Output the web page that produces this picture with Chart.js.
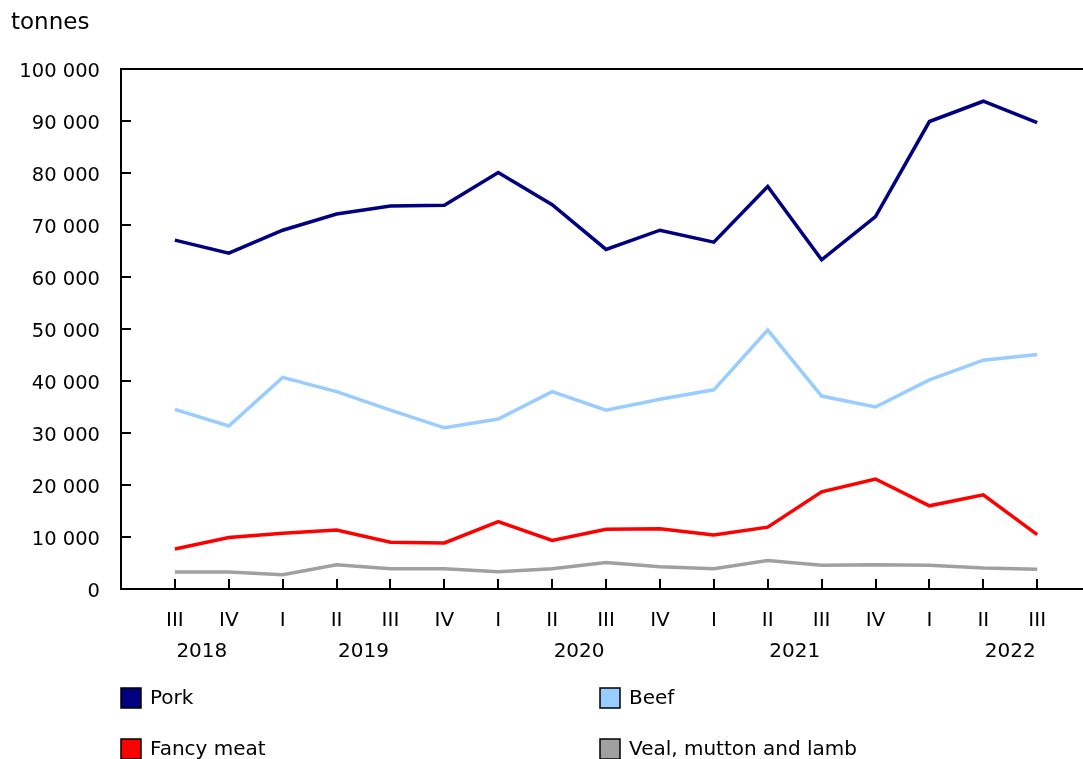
<!DOCTYPE html>
<html>
<head>
<meta charset="utf-8">
<script src="https://cdn.jsdelivr.net/npm/chart.js@4"></script>
<style>
  body { margin: 0; background: #fff; }
  canvas { display: block; }
</style>
</head>
<body>
<canvas id="myChart" width="1083" height="759"></canvas>
<script>
// quarters III 2018 .. III 2022, tonnes
const quarters = ['III', 'IV', 'I', 'II', 'III', 'IV', 'I', 'II', 'III', 'IV', 'I', 'II', 'III', 'IV', 'I', 'II', 'III'];
const years = ['2018', '2019', '2020', '2021', '2022'];
const yearAt = [0.5, 3.5, 7.5, 11.5, 15.5]; // quarter index under which the year sits

const pork = [67100, 64600, 69000, 72100, 73650, 73800, 80100, 73900, 65300, 69000, 66700, 77400, 63300, 71600, 89900, 93800, 89700];
const beef = [34550, 31350, 40700, 37950, 34400, 31000, 32700, 37950, 34400, 36500, 38300, 49800, 37100, 35000, 40200, 44000, 45100];
const fancyMeat = [7700, 9900, 10700, 11350, 9000, 8850, 12950, 9350, 11500, 11600, 10400, 11900, 18700, 21150, 16000, 18100, 10450];
const veal = [3270, 3270, 2760, 4670, 3900, 3900, 3330, 3900, 5100, 4300, 3900, 5500, 4550, 4670, 4550, 4040, 3800];

const FONT = 'DejaVu Sans, Verdana, sans-serif';

function withSpaces(v) {
    return String(v).replace(/\B(?=(\d{3})+(?!\d))/g, ' ');
}

function points(values) {
    return values.map((v, i) => ({ x: i, y: v }));
}

const extras = {
    id: 'extras',
    afterDraw(chart) {
        const { ctx, chartArea: a, scales: { x, y } } = chart;
        ctx.save();
        ctx.strokeStyle = '#000';
        ctx.lineWidth = 2;
        ctx.beginPath();
        // top frame line
        ctx.moveTo(a.left - 1, a.top);
        ctx.lineTo(a.right, a.top);
        // inner tick marks
        quarters.forEach((q, i) => {
            const px = Math.round(x.getPixelForValue(i));
            ctx.moveTo(px, a.bottom);
            ctx.lineTo(px, a.bottom - 10);
        });
        y.ticks.forEach((t) => {
            if (t.value <= 0 || t.value >= 100000) return;
            const py = Math.round(y.getPixelForValue(t.value));
            ctx.moveTo(a.left, py);
            ctx.lineTo(a.left + 10, py);
        });
        ctx.stroke();

        ctx.fillStyle = '#000';
        ctx.font = '20px ' + FONT;
        ctx.textAlign = 'center';
        ctx.textBaseline = 'middle';
        years.forEach((yr, i) => {
            ctx.fillText(yr, x.getPixelForValue(yearAt[i]), 652);
        });

        // unit label
        ctx.font = '23px ' + FONT;
        ctx.textAlign = 'left';
        ctx.textBaseline = 'alphabetic';
        ctx.fillText('tonnes', 11, 29);

        // legend
        ctx.font = '20px ' + FONT;
        ctx.textBaseline = 'middle';
        const cols = [121, 600];
        const rows = [688, 739];
        chart.data.datasets.forEach((ds, i) => {
            const bx = cols[i % 2];
            const by = rows[Math.floor(i / 2)];
            ctx.fillStyle = ds.borderColor;
            ctx.fillRect(bx, by, 20, 20);
            ctx.lineWidth = 1.5;
            ctx.strokeStyle = '#000';
            ctx.strokeRect(bx, by, 20, 20);
            ctx.fillStyle = '#000';
            ctx.fillText(ds.label, bx + 29, by + 11);
        });
        ctx.restore();
    }
};

new Chart(document.getElementById('myChart'), {
    type: 'line',
    data: {
        datasets: [
            { label: 'Pork', data: points(pork), borderColor: '#000080' },
            { label: 'Beef', data: points(beef), borderColor: '#99ccff' },
            { label: 'Fancy meat', data: points(fancyMeat), borderColor: '#ff0000' },
            { label: 'Veal, mutton and lamb', data: points(veal), borderColor: '#a0a0a0' }
        ]
    },
    options: {
        responsive: false,
        animation: false,
        layout: { padding: { top: 69, left: 0, right: 0, bottom: 0 } },
        datasets: {
            line: { borderWidth: 3.5 }
        },
        elements: {
            line: { borderWidth: 3.5, tension: 0, fill: false },
            point: { radius: 0, hoverRadius: 0 }
        },
        plugins: {
            legend: { display: false },
            tooltip: { enabled: false }
        },
        scales: {
            x: {
                type: 'linear',
                min: -1,
                max: 16.85,
                afterFit: (s) => { s.height = 170; },
                grid: { drawOnChartArea: false, drawTicks: false },
                border: { color: '#000', width: 2 },
                ticks: {
                    stepSize: 1,
                    includeBounds: false,
                    autoSkip: false,
                    maxRotation: 0,
                    padding: 20,
                    color: '#000',
                    font: { family: FONT, size: 20 },
                    callback: (v) => (Number.isInteger(v) && v >= 0 && v < quarters.length ? quarters[v] : '')
                }
            },
            y: {
                min: 0,
                max: 100000,
                afterFit: (s) => { s.width = 121; },
                grid: { drawOnChartArea: false, drawTicks: false },
                border: { color: '#000', width: 2 },
                ticks: {
                    stepSize: 10000,
                    padding: 21,
                    labelOffset: 3,
                    color: '#000',
                    font: { family: FONT, size: 19.5 },
                    callback: (v) => withSpaces(v)
                }
            }
        }
    },
    plugins: [extras]
});
</script>
</body>
</html>
